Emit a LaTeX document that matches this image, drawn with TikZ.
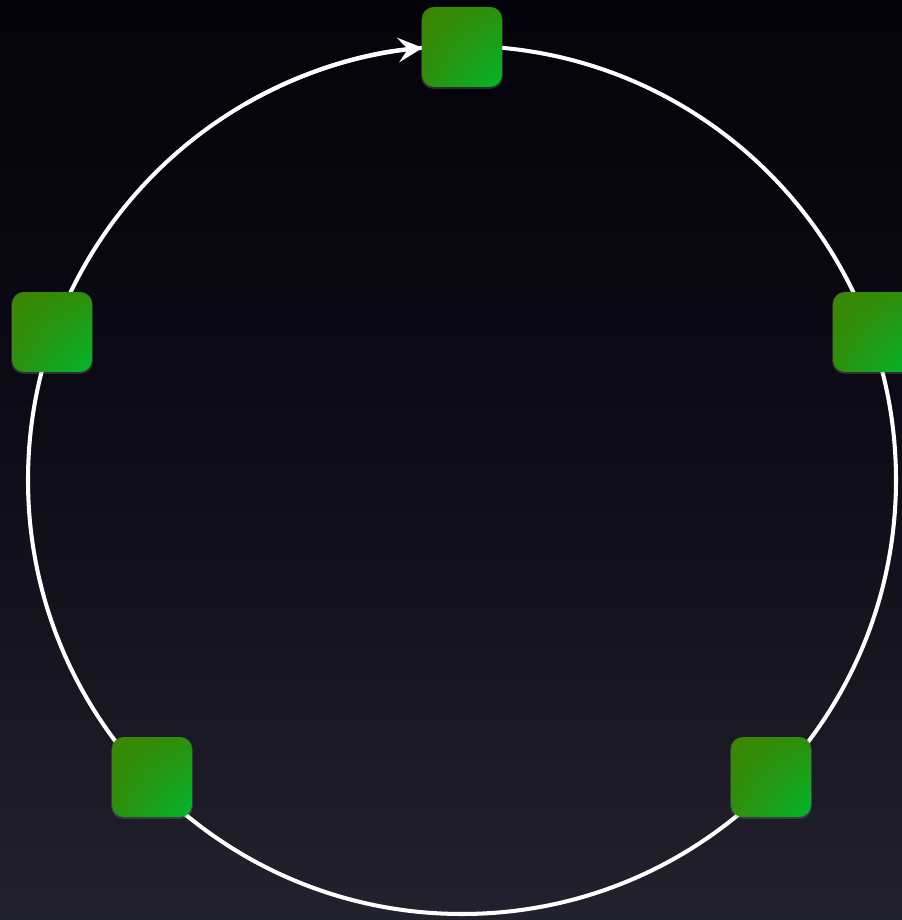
\documentclass[tikz,border=0pt]{standalone}
\usetikzlibrary{arrows.meta,shadows,shadings}

\definecolor{sqdark}{HTML}{3C8500}
\definecolor{sqmid}{HTML}{2D8F0E}
\definecolor{sqlight}{HTML}{00B82C}
\definecolor{bgA}{HTML}{22222E}
\definecolor{bgB}{HTML}{15141F}
\definecolor{bgC}{HTML}{0C0B16}
\definecolor{bgD}{HTML}{080710}
\definecolor{bgE}{HTML}{04040A}

% colours between 25bp (bottom) and 75bp (top)
\pgfdeclareverticalshading{night}{100bp}{
  color(0bp)=(bgA); color(25bp)=(bgA); color(40bp)=(bgB); color(52bp)=(bgC);
  color(64bp)=(bgD); color(75bp)=(bgE); color(100bp)=(bgE)}

\tikzset{
  sq/.style={rounded corners=6.8pt, minimum size=1.6cm, inner sep=0pt,
    upper left=sqdark, upper right=sqmid, lower left=sqmid, lower right=sqlight,
    drop shadow={shadow xshift=0pt, shadow yshift=-0.6pt, shadow scale=1.02, opacity=0.3}},
  ring/.style={draw=white, line width=2.3pt}
}

\begin{document}
\begin{tikzpicture}[x=0.02cm, y=0.02cm]
    % Background
    \shade[shading=night] (0,0) rectangle (902,920);
    \useasboundingbox (0,0) rectangle (902,920);

    % Ring
    \coordinate (c) at (462,440);
    \draw[ring] (c) circle[radius=434];
    \draw[ring, -{Stealth[length=14pt, width=14pt, inset=5.5pt, fill=white!90!black]}]
        (c) ++(120:434) arc[start angle=120, end angle=95.2, radius=434];

    % Stations
    \node[sq] (top) at (462,873) {};
    \node[sq] (left) at (52,588) {};
    \node[sq] (right) at (873,588) {};
    \node[sq] (botleft) at (152,143) {};
    \node[sq] (botright) at (771,143) {};
\end{tikzpicture}
\end{document}
